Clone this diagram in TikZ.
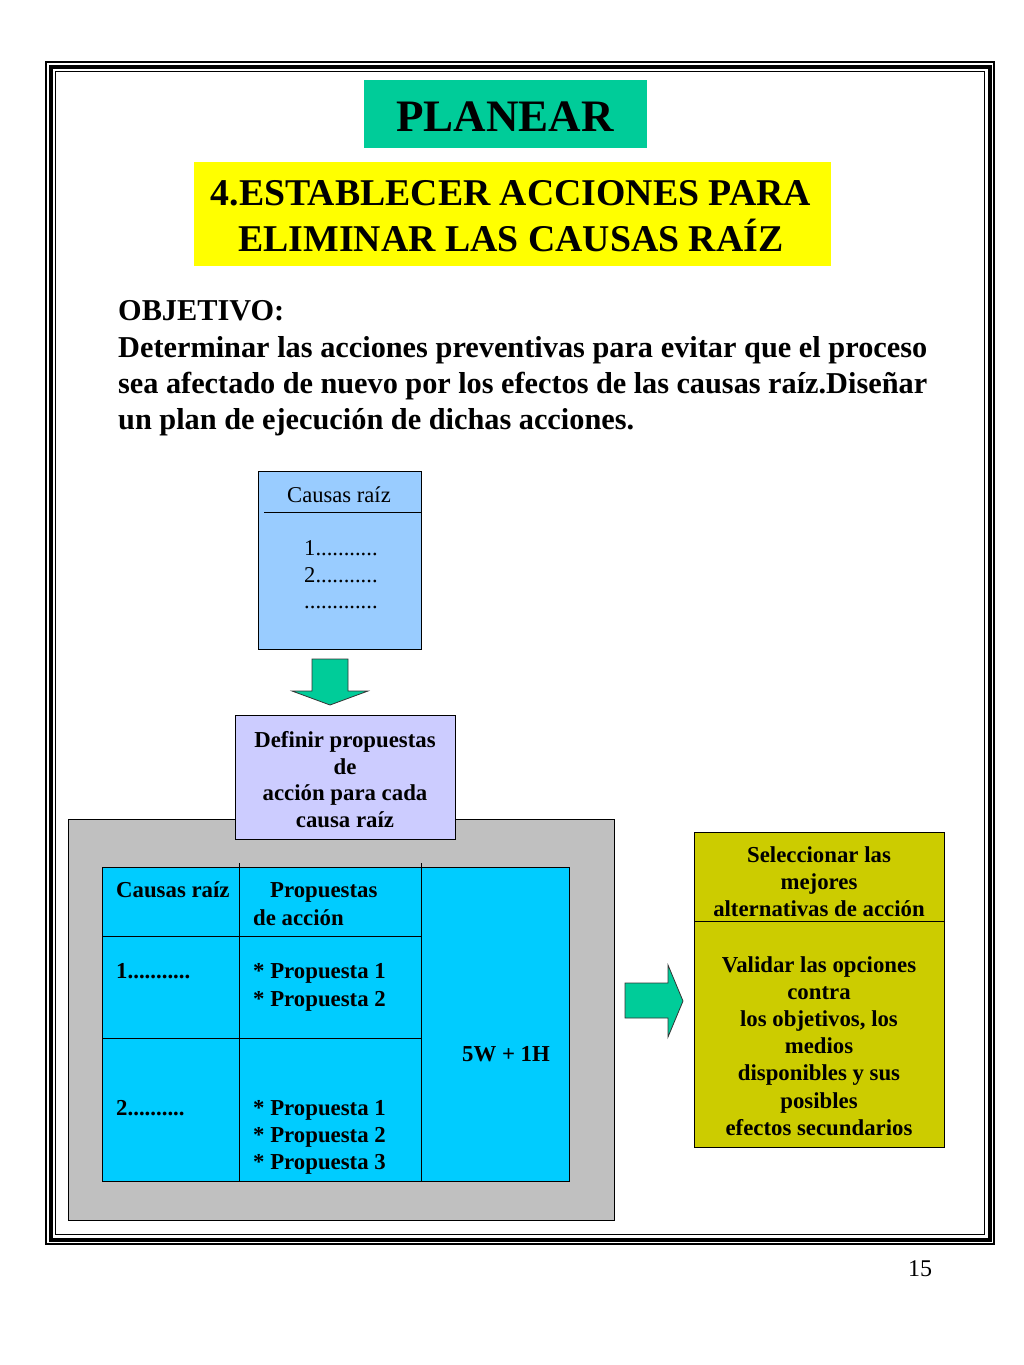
\documentclass[tikz,border=0pt]{standalone}
\usepackage{fontspec}
\setmainfont{Liberation Serif}
\definecolor{titlegreen}{RGB}{0,204,153}
\definecolor{titleyellow}{RGB}{255,255,0}
\definecolor{causeblue}{RGB}{153,204,255}
\definecolor{lavender}{RGB}{204,204,255}
\definecolor{panelgray}{RGB}{192,192,192}
\definecolor{tablecyan}{RGB}{0,204,255}
\definecolor{olive}{RGB}{204,204,0}
\tikzset{
  box/.style={draw=black, line width=1pt, anchor=north west, inner sep=0pt},
  txt/.style={inner sep=0pt, font=\fontsize{22.8}{27.2}\selectfont\bfseries},
  txtr/.style={inner sep=0pt, font=\fontsize{22.6}{26.7}\selectfont},
  blockarrow/.style={draw=black!80, line width=0.8pt, fill=titlegreen, line join=miter}
}
\begin{document}
\begin{tikzpicture}[x=1pt,y=-1pt]
\useasboundingbox (0,0) rectangle (1024,1365);
\fill[white] (0,0) rectangle (1024,1365);
% frame
\draw[line width=1.5pt] (46,62) rectangle (994,1244);
\draw[line width=4pt] (50.5,66.5) rectangle (989.5,1239.5);
\draw[line width=1.5pt] (55.5,71.5) rectangle (984.5,1234.5);
% titles
\node[fill=titlegreen, anchor=north west, minimum width=283, minimum height=68, inner sep=0pt] (planear) at (364,80) {};
\node[inner sep=0pt, anchor=base, font=\fontsize{45}{50}\selectfont\bfseries] (planeart) at (505,131) {PLANEAR};
\node[fill=titleyellow, anchor=north west, minimum width=637, minimum height=104, inner sep=0pt] (paso) at (194,162) {};
\node[inner sep=0pt, anchor=base, font=\fontsize{37.8}{46}\selectfont\bfseries] (paso1) at (511,205) {4.ESTABLECER ACCIONES PARA};
\node[inner sep=0pt, anchor=base, font=\fontsize{37.8}{46}\selectfont\bfseries] (paso2) at (511,251) {ELIMINAR LAS CAUSAS RAÍZ};
% objective
\tikzset{obj/.style={inner sep=0pt, anchor=base west, font=\fontsize{30.3}{36}\selectfont\bfseries}}
\node[obj] (obj0) at (118,320) {OBJETIVO:};
\node[obj] (obj1) at (118,357) {\makebox[809pt][s]{Determinar las acciones preventivas para evitar que el proceso}};
\node[obj] (obj2) at (118,393) {\makebox[809pt][s]{sea afectado de nuevo por los efectos de las causas raíz.Diseñar}};
\node[obj] (obj3) at (118,429) {un plan de ejecución de dichas acciones.};
% causes box
\node[box, fill=causeblue, minimum width=163, minimum height=178] (causas) at (258,471) {};
\draw[line width=1pt] (264,512) -- (causas.east |- 0,512);
\node[txtr, anchor=base] (causash) at (339,502) {Causas raíz};
\node[txtr, anchor=base west] (c1) at (304,555) {1...........};
\node[txtr, anchor=base west] (c2) at (304,582) {2...........};
\node[txtr, anchor=base west] (c3) at (304,608) {.............};
% down arrow
\draw[blockarrow] (312,659) -- (348,659) -- (348,691) -- (368,691) -- (330,705) -- (292,691) -- (312,691) -- cycle;
% gray panel
\node[box, fill=panelgray, minimum width=546, minimum height=401] (panel) at (68,819) {};
% definir box
\node[box, fill=lavender, minimum width=220, minimum height=124] (definir) at (235,715) {};
\node[txt, align=center, font=\fontsize{22.8}{26.7}\selectfont\bfseries] (definirt) at (345,779.5) {Definir propuestas\\de\\acción para cada\\causa raíz};
% table
\node[box, fill=tablecyan, minimum width=467, minimum height=314] (tabla) at (102,867) {};
\draw[line width=1pt] (239,863) -- (239,1181);
\draw[line width=1pt] (421,863) -- (421,1181);
\draw[line width=1pt] (102,936) -- (421,936);
\draw[line width=1pt] (102,1038) -- (421,1038);
\tikzset{cell/.style={txt, anchor=base west}}
\node[cell] (h1) at (116,897) {Causas raíz};
\node[cell] (h2) at (270,897) {Propuestas};
\node[cell] (h3) at (253,925) {de acción};
\node[cell] (r1) at (116,978) {1...........};
\node[cell] (r1a) at (253,978) {* Propuesta 1};
\node[cell] (r1b) at (253,1006) {* Propuesta 2};
\node[cell] (r2) at (116,1115) {2..........};
\node[cell] (r2a) at (253,1115) {* Propuesta 1};
\node[cell] (r2b) at (253,1142) {* Propuesta 2};
\node[cell] (r2c) at (253,1169) {* Propuesta 3};
\node[txt, anchor=base] (w5) at (506,1061) {5W + 1H};
% right arrow
\draw[blockarrow] (625,983) -- (668,983) -- (668,965) -- (683,1001) -- (668,1037) -- (668,1018) -- (625,1018) -- cycle;
% select box
\node[box, fill=olive, minimum width=250, minimum height=315] (sel) at (694,832) {};
\draw[line width=1pt] (sel.west |- 0,921) -- (sel.east |- 0,921);
\node[txt, align=center] (selt) at (819,881.5) {Seleccionar las\\mejores\\alternativas de acción};
\node[txt, align=center] (valt) at (819,1046) {Validar las opciones\\contra\\los objetivos, los\\medios\\disponibles y sus\\posibles\\efectos secundarios};
% page number
\node[inner sep=0pt, anchor=base, font=\fontsize{24}{28}\selectfont] (pagina) at (920,1276) {15};
\end{tikzpicture}
\end{document}
